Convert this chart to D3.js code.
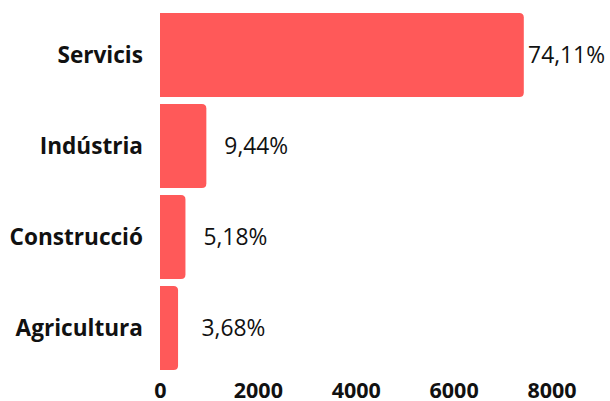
<!DOCTYPE html>
<html><head><meta charset="utf-8">
<script src="https://cdn.jsdelivr.net/npm/d3@7"></script>
<style>body{margin:0;background:#fff}svg{display:block}</style>
</head><body>
<svg id="c" width="610" height="401"></svg>
<script>
const categories = ["Servicis", "Indústria", "Construcció", "Agricultura"];
const values = [7434, 947, 520, 369];
const percentLabels = ["74,11%", "9,44%", "5,18%", "3,68%"];
const tickValues = [0, 2000, 4000, 6000, 8000];

const W = 610, H = 401;
const svg = d3.select("#c");
const x = d3.scaleLinear().domain([0, 8000]).range([160, 551.5]);
const y = d3.scaleBand().domain(categories).range([13, 370]).paddingInner(0.077).paddingOuter(0);
const color = "#ff5959";
const font = "'Open Sans', sans-serif";
const r = 4.5;

function barPath(x0, x1, y0, h) {
  const rr = Math.min(r, (x1 - x0) / 2, h / 2);
  return `M${x0},${y0}H${x1 - rr}Q${x1},${y0} ${x1},${y0 + rr}V${y0 + h - rr}Q${x1},${y0 + h} ${x1 - rr},${y0 + h}H${x0}Z`;
}

const data = categories.map((c, i) => ({c, v: values[i], p: percentLabels[i]}));

svg.selectAll("path.bar").data(data).join("path")
  .attr("class", "bar")
  .attr("fill", color)
  .attr("d", d => barPath(x(0), x(d.v), y(d.c), y.bandwidth()));

svg.selectAll("text.cat").data(data).join("text")
  .attr("class", "cat")
  .attr("x", x(0) - 17)
  .attr("y", d => y(d.c) + y.bandwidth() / 2)
  .attr("dy", "0.35em")
  .attr("text-anchor", "end")
  .attr("font-family", font)
  .attr("font-weight", 700)
  .attr("font-size", 22.6)
  .attr("fill", "#111")
  .text(d => d.c);

const lbl = svg.selectAll("text.val").data(data).join("text")
  .attr("class", "val")
  .attr("y", d => y(d.c) + y.bandwidth() / 2)
  .attr("dy", "0.35em")
  .attr("font-family", font)
  .attr("font-size", 22.8)
  .attr("fill", "#111")
  .text(d => d.p);
lbl.each(function(d) {
  const tw = this.getComputedTextLength();
  let lx = Math.max(x(d.v) + 18, x(0) + 41.5);
  lx = Math.min(lx, W - 5 - tw);
  d3.select(this).attr("x", lx);
});

const axis = d3.axisBottom(x).tickValues(tickValues).tickSize(0).tickPadding(0).tickFormat(d3.format("d"));
const g = svg.append("g").attr("transform", `translate(0,${378})`).call(axis);
g.select(".domain").remove();
g.selectAll("text")
  .attr("font-family", font)
  .attr("font-weight", 700)
  .attr("font-size", 21.5)
  .attr("fill", "#111")
  .attr("dy", "0.95em");
</script>
</body></html>
